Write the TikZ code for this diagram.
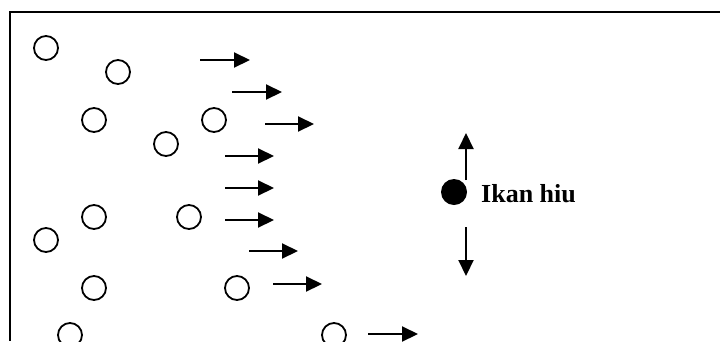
\documentclass[tikz,border=0pt]{standalone}
\usepackage{fontspec}
\setmainfont{Liberation Serif}
\usetikzlibrary{arrows.meta}
\begin{document}
\begin{tikzpicture}[x=1pt,y=-1pt,
  fish/.style={circle,draw,line width=1.8pt,minimum size=24pt,inner sep=0pt},
  shark/.style={circle,fill=black,minimum size=26pt,inner sep=0pt},
  flow/.style={line width=2.1pt,-{Triangle[length=16pt,width=15pt]}},
  lbl/.style={font=\bfseries\fontsize{26}{30}\selectfont,inner sep=0pt,anchor=base west}]
\useasboundingbox (0,0) rectangle (720,341);
% frame
\draw[line width=2.2pt] (720,12) -- (10,12) -- (10,341);
% small fish
\node[fish] (c1) at (46,48) {};
\node[fish] (c2) at (118,72) {};
\node[fish] (c3) at (94,120) {};
\node[fish] (c4) at (166,144) {};
\node[fish] (c5) at (214,120) {};
\node[fish] (c6) at (94,217) {};
\node[fish] (c7) at (46,240) {};
\node[fish] (c8) at (189,217) {};
\node[fish] (c9) at (94,288) {};
\node[fish] (c10) at (237,288) {};
\node[fish] (c11) at (70,335) {};
\node[fish] (c12) at (334,335) {};
% flow arrows
\coordinate (a1s) at (200,60);  \coordinate (a1e) at (250,60);
\coordinate (a2s) at (232,92);  \coordinate (a2e) at (282,92);
\coordinate (a3s) at (265,124); \coordinate (a3e) at (314,124);
\coordinate (a4s) at (225,156); \coordinate (a4e) at (274,156);
\coordinate (a5s) at (225,188); \coordinate (a5e) at (274,188);
\coordinate (a6s) at (225,220); \coordinate (a6e) at (274,220);
\coordinate (a7s) at (249,251); \coordinate (a7e) at (298,251);
\coordinate (a8s) at (273,284); \coordinate (a8e) at (322,284);
\coordinate (a9s) at (368,334); \coordinate (a9e) at (418,334);
\foreach \i in {1,...,9} \draw[flow] (a\i s) -- (a\i e);
% shark
\node[shark] (shark) at (454,192) {};
\node[lbl] (name) at (481,202) {Ikan hiu};
\coordinate (us) at (466,180); \coordinate (ue) at (466,133);
\coordinate (ds) at (466,227); \coordinate (de) at (466,276);
\draw[flow] (us) -- (ue);
\draw[flow] (ds) -- (de);
\end{tikzpicture}
\end{document}
